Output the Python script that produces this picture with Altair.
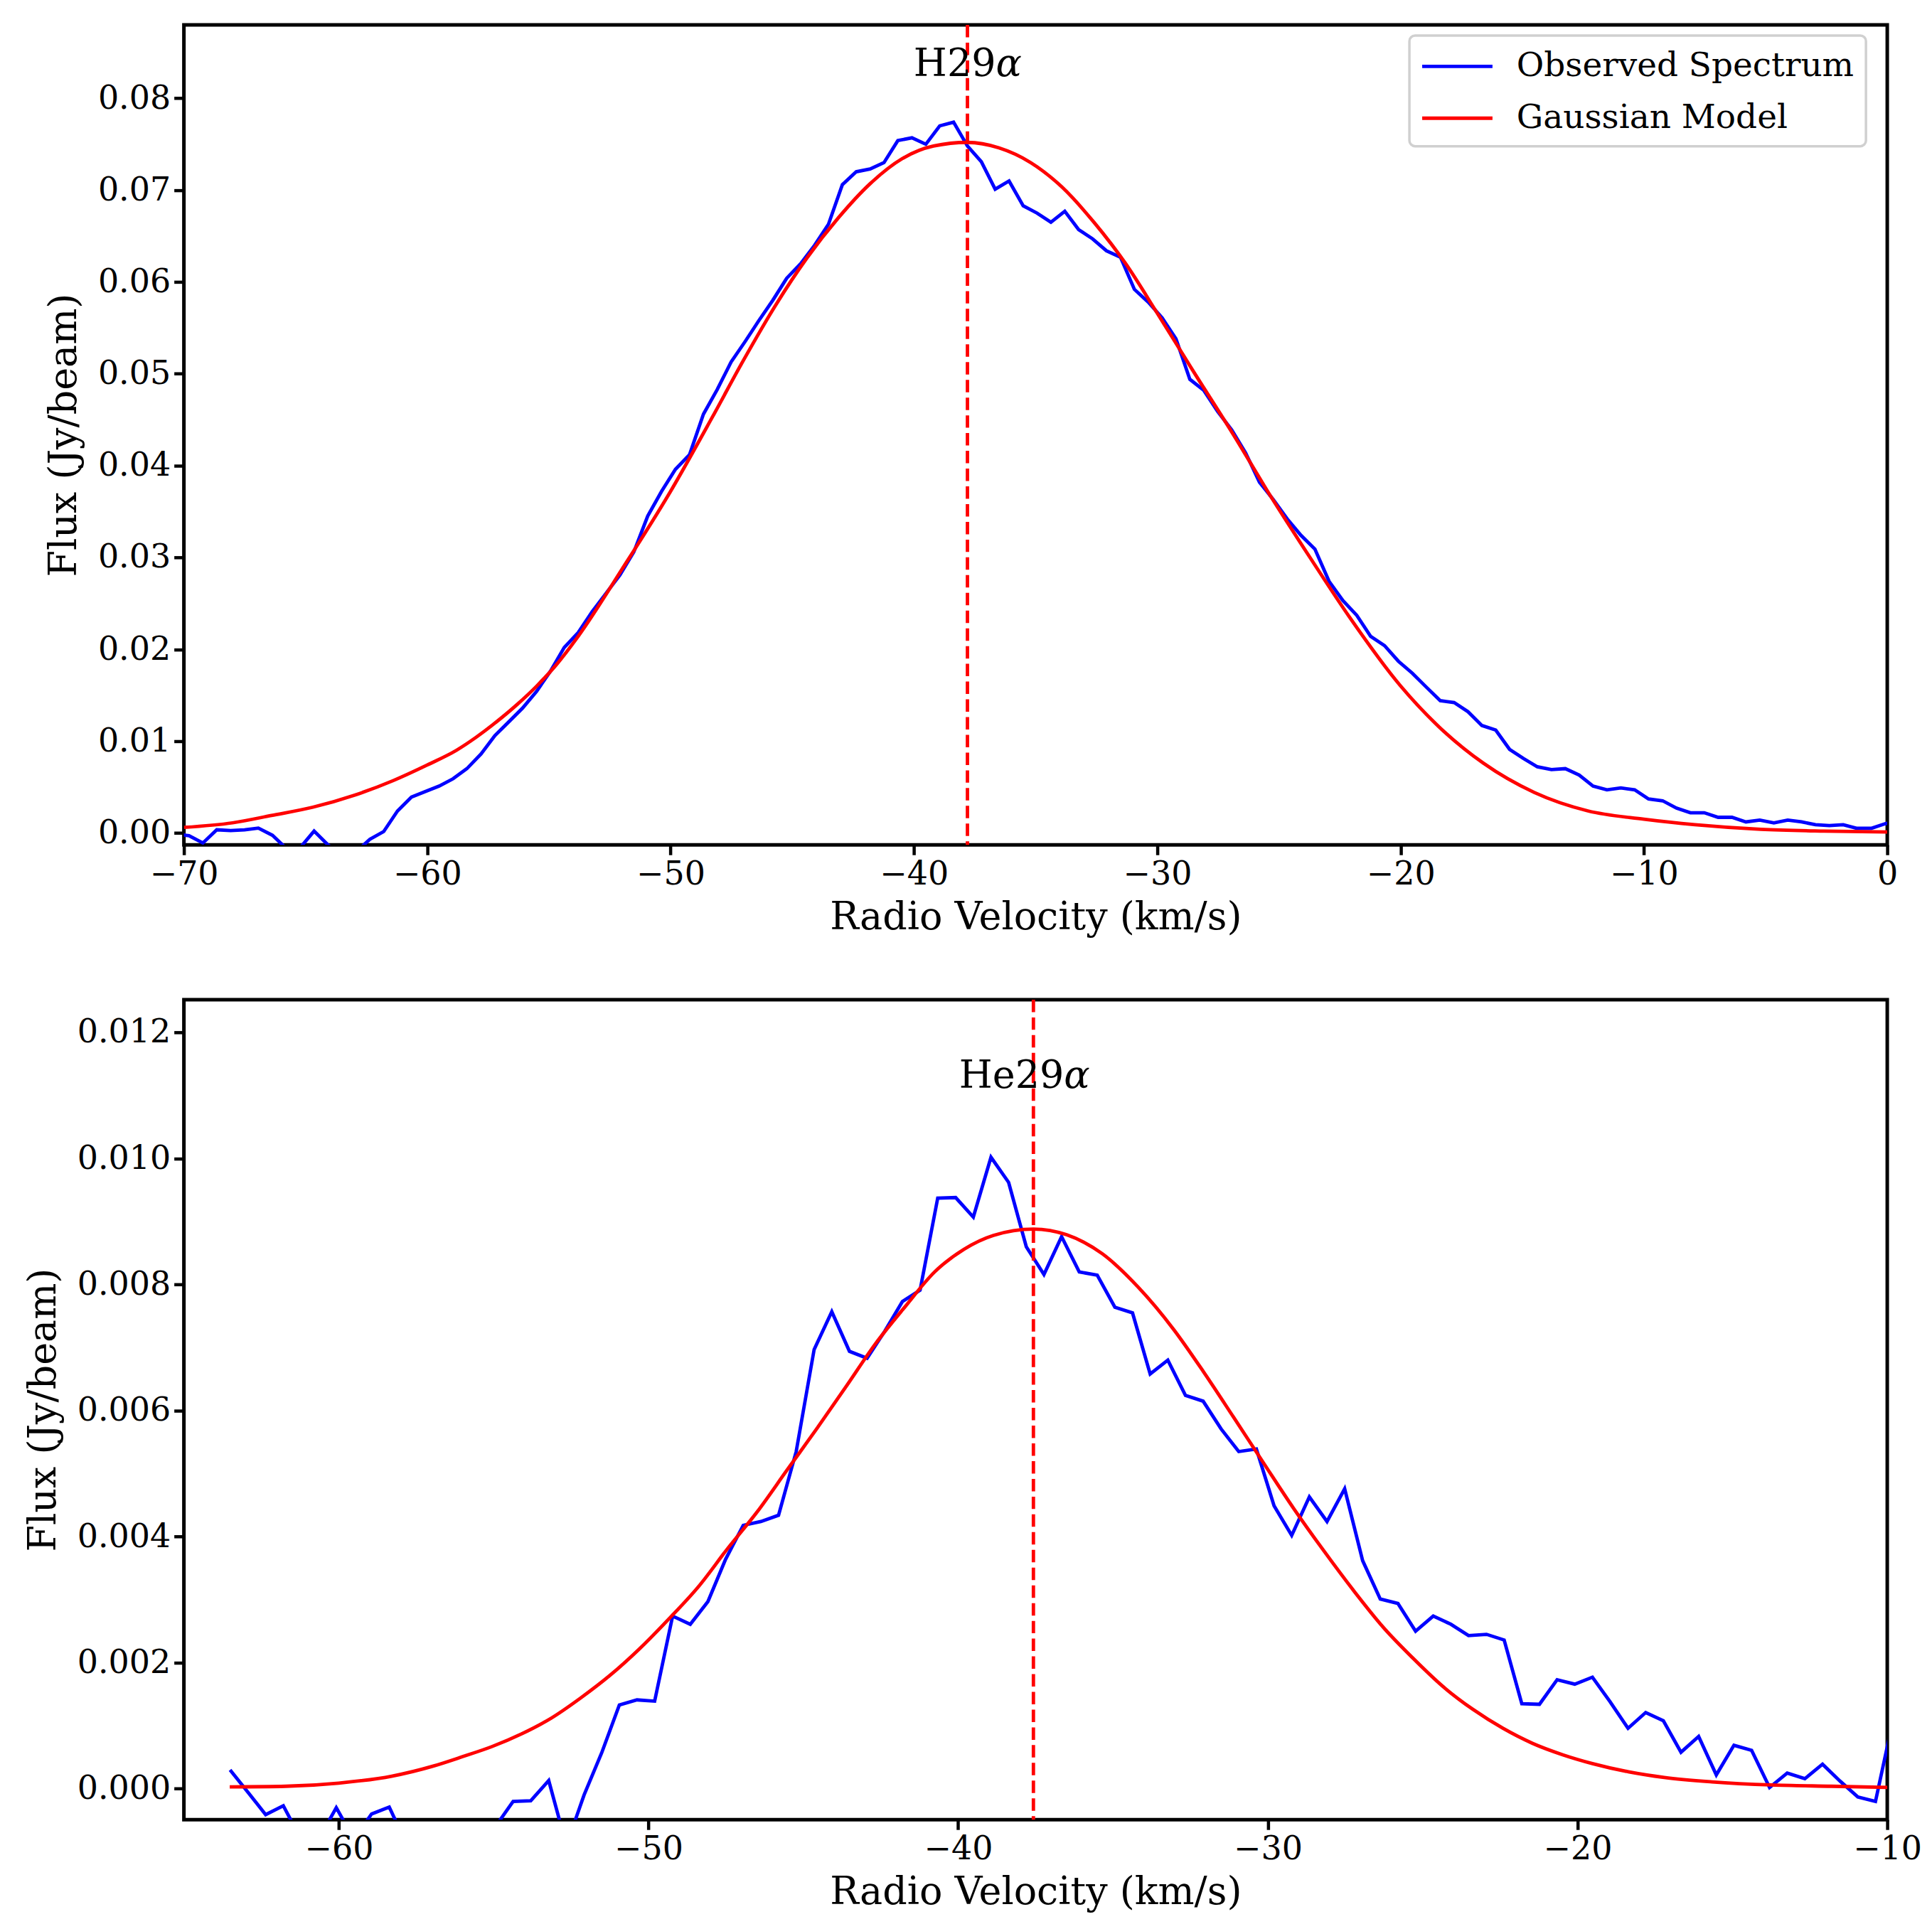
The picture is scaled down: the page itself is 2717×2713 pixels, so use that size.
import altair as alt
import pandas as pd

SERIF = "DejaVu Serif"
BLUE = "#0000ff"
RED = "#ff0000"

# --- H29alpha: observed channels ---
h_vel = [
    -70.36, -69.79, -69.22, -68.65, -68.08, -67.51, -66.94, -66.36, -65.79, -65.22,
    -64.65, -64.08, -63.51, -62.94, -62.36, -61.79, -61.22, -60.65, -60.08, -59.51,
    -58.94, -58.37, -57.79, -57.22, -56.65, -56.08, -55.51, -54.94, -54.37, -53.80,
    -53.22, -52.65, -52.08, -51.51, -50.94, -50.37, -49.80, -49.22, -48.65, -48.08,
    -47.51, -46.94, -46.37, -45.80, -45.23, -44.65, -44.08, -43.51, -42.94, -42.37,
    -41.80, -41.23, -40.66, -40.08, -39.51, -38.94, -38.37, -37.80, -37.23, -36.66,
    -36.09, -35.51, -34.94, -34.37, -33.80, -33.23, -32.66, -32.09, -31.51, -30.94,
    -30.37, -29.80, -29.23, -28.66, -28.09, -27.52, -26.94, -26.37, -25.80, -25.23,
    -24.66, -24.09, -23.52, -22.94, -22.37, -21.80, -21.23, -20.66, -20.09, -19.52,
    -18.95, -18.37, -17.80, -17.23, -16.66, -16.09, -15.52, -14.95, -14.38, -13.80,
    -13.23, -12.66, -12.09, -11.52, -10.95, -10.38, -9.81, -9.23, -8.66, -8.09,
    -7.52, -6.95, -6.38, -5.81, -5.24, -4.66, -4.09, -3.52, -2.95, -2.38,
    -1.81, -1.24, -0.66, -0.09, 0.48,
]
h_obs = [
    -0.0001, -0.0003, -0.0011, 0.00034, 0.00026, 0.00034, 0.00052, -0.00026, -0.0017, -0.0016,
    0.0002, -0.0013, -0.0025, -0.0021, -0.0007, 0.00015, 0.0024, 0.0039, 0.0045, 0.0051,
    0.0059, 0.0070, 0.0086, 0.0106, 0.0121, 0.0136, 0.0154, 0.0176, 0.0202, 0.0218,
    0.0241, 0.0261, 0.0281, 0.0306, 0.0345, 0.0372, 0.0396, 0.0412, 0.0456, 0.0483,
    0.0513, 0.0535, 0.0558, 0.0580, 0.0604, 0.0620, 0.0640, 0.0663, 0.0706, 0.0720,
    0.0723, 0.0730, 0.0754, 0.0757, 0.0750, 0.0770, 0.0774, 0.0748, 0.0731, 0.0701,
    0.0710, 0.0683, 0.0675, 0.0665, 0.0677, 0.0657, 0.0647, 0.0634, 0.0627, 0.0592,
    0.0578, 0.0561, 0.0538, 0.0494, 0.0482, 0.0459, 0.0439, 0.0414, 0.0382, 0.0363,
    0.0342, 0.0324, 0.0309, 0.0274, 0.0253, 0.0237, 0.0214, 0.0204, 0.0187, 0.0174,
    0.0159, 0.0144, 0.0142, 0.0132, 0.0117, 0.0112, 0.0091, 0.0081, 0.0072, 0.0069,
    0.0070, 0.0063, 0.0051, 0.0047, 0.0049, 0.0047, 0.0037, 0.0035, 0.0027, 0.0022,
    0.0022, 0.0017, 0.0017, 0.0012, 0.0014, 0.0011, 0.0014, 0.0012, 0.0009, 0.0008,
    0.0009, 0.0005, 0.0005, 0.0010, 0.0013,
]

# --- H29alpha: fitted model ---
h_fit_vel = [
    -70.0, -68.0, -66.4, -64.7, -63.0, -61.4, -60.0, -58.8, -58.0, -57.2,
    -56.3, -55.5, -54.7, -53.8, -52.0, -50.0, -48.3, -47.0, -45.7, -44.4,
    -43.1, -41.8, -40.5, -39.2, -37.8, -36.5, -35.2, -33.9, -32.6, -31.3,
    -30.0, -28.5, -26.9, -25.3, -23.7, -22.1, -20.0, -18.4, -16.6, -14.5,
    -12.3, -10.0, -7.9, -5.2, -2.6, 0.0,
]
h_fit = [
    0.0006, 0.0011, 0.0019, 0.0028, 0.0041, 0.0057, 0.0074, 0.0090, 0.0104, 0.0120,
    0.0140, 0.0160, 0.0183, 0.0214, 0.0287, 0.0372, 0.0452, 0.0515, 0.0574, 0.0626,
    0.0670, 0.0707, 0.0734, 0.0748, 0.0752, 0.0746, 0.0730, 0.0703, 0.0665, 0.0620,
    0.0566, 0.0502, 0.0435, 0.0365, 0.0299, 0.0235, 0.0160, 0.0115, 0.0076, 0.0044,
    0.0024, 0.0015, 0.0009, 0.0004, 0.0002, 0.0001,
]

# --- He29alpha: observed channels ---
he_vel = [
    -63.51, -62.94, -62.36, -61.79, -61.22, -60.65, -60.08, -59.51, -58.94, -58.37,
    -57.79, -57.22, -56.65, -56.08, -55.51, -54.94, -54.37, -53.80, -53.22, -52.65,
    -52.08, -51.51, -50.94, -50.37, -49.80, -49.22, -48.65, -48.08, -47.51, -46.94,
    -46.37, -45.80, -45.23, -44.65, -44.08, -43.51, -42.94, -42.37, -41.80, -41.23,
    -40.66, -40.08, -39.51, -38.94, -38.37, -37.80, -37.23, -36.66, -36.09, -35.51,
    -34.94, -34.37, -33.80, -33.23, -32.66, -32.09, -31.51, -30.94, -30.37, -29.80,
    -29.23, -28.66, -28.09, -27.52, -26.94, -26.37, -25.80, -25.23, -24.66, -24.09,
    -23.52, -22.94, -22.37, -21.80, -21.23, -20.66, -20.09, -19.52, -18.95, -18.37,
    -17.80, -17.23, -16.66, -16.09, -15.52, -14.95, -14.38, -13.80, -13.23, -12.66,
    -12.09, -11.52, -10.95, -10.38, -9.81,
]
he_obs = [
    0.0003, -0.00005, -0.00041, -0.00027, -0.0008, -0.0008, -0.0003, -0.0008, -0.0004, -0.00029,
    -0.0009, -0.0012, -0.0010, -0.0009, -0.0012, -0.0006, -0.0002, -0.00019, 0.00013, -0.0009,
    -0.0001, 0.00057, 0.00133, 0.00141, 0.00139, 0.00274, 0.00261, 0.00297, 0.00364, 0.00418,
    0.00424, 0.00434, 0.00535, 0.00697, 0.00757, 0.00694, 0.00683, 0.00726, 0.00773, 0.00791,
    0.00937, 0.00938, 0.00907, 0.01002, 0.00962, 0.00860, 0.00816, 0.00876, 0.00820, 0.00815,
    0.00764, 0.00755, 0.00658, 0.00680, 0.00624, 0.00615, 0.00571, 0.00535, 0.00539, 0.00449,
    0.00402, 0.00463, 0.00424, 0.00476, 0.00362, 0.00301, 0.00294, 0.00250, 0.00274, 0.00261,
    0.00243, 0.00245, 0.00236, 0.00135, 0.00134, 0.00173, 0.00166, 0.00177, 0.00138, 0.00096,
    0.00121, 0.00108, 0.00058, 0.00083, 0.00022, 0.00069, 0.00061, 0.00002, 0.00025, 0.00016,
    0.00039, 0.00012, -0.00013, -0.00020, 0.00110,
]

# --- He29alpha: fitted model ---
he_fit_vel = [
    -63.52, -61.71, -60.0, -58.29, -56.95, -56.0, -55.05, -54.1, -53.14, -52.19,
    -51.24, -50.29, -49.33, -48.38, -47.43, -46.48, -45.52, -44.57, -43.62, -42.67,
    -41.71, -40.76, -39.81, -38.86, -37.57, -36.5, -35.35, -34.19, -33.03, -32.07,
    -31.1, -30.14, -29.17, -28.2, -27.24, -26.27, -25.31, -24.34, -23.38, -22.41,
    -21.45, -20.48, -19.52, -18.36, -17.2, -15.66, -13.73, -11.8, -9.81,
]
he_fit = [
    0.00003, 0.00004, 0.00009, 0.00020, 0.00036, 0.00051, 0.00067, 0.00087, 0.00112, 0.00144,
    0.00180, 0.00222, 0.00270, 0.00321, 0.00382, 0.00440, 0.00506, 0.00571, 0.00638, 0.00706,
    0.00765, 0.00820, 0.00856, 0.00878, 0.00888, 0.00879, 0.00849, 0.00796, 0.00728, 0.00661,
    0.00589, 0.00517, 0.00445, 0.00378, 0.00315, 0.00256, 0.00207, 0.00162, 0.00126, 0.00096,
    0.00072, 0.00054, 0.00040, 0.00027, 0.00018, 0.00011, 0.00006, 0.00004, 0.00002,
]

# line centres and labels
line_names = ["H29", "He29"]
line_centres = [-37.8, -37.57]
label_heights = [0.0824, 0.01112]

series = ["Observed Spectrum", "Gaussian Model"]

MINUS = "replace(format(datum.value, 'd'), '-', '\u2212')"
LW = 4.8


def panel(vel, obs, fvel, fit, centre, name, label_y, xdom, ydom, xticks, yticks, yfmt,
          alpha_dx):
    obs_df = pd.DataFrame({"v": vel, "f": obs, "s": series[0]})
    fit_df = pd.DataFrame({"v": fvel, "f": fit, "s": series[1]})
    mark_df = pd.DataFrame({"v": [centre], "f": [label_y], "t": [name], "a": ["\u03b1"]})

    x = alt.X("v:Q", scale=alt.Scale(domain=xdom, nice=False, zero=False),
              axis=alt.Axis(values=xticks, title="Radio Velocity (km/s)", labelExpr=MINUS,
                            labelFlush=False))
    y = alt.Y("f:Q", scale=alt.Scale(domain=ydom, nice=False, zero=False),
              axis=alt.Axis(values=yticks, format=yfmt, title="Flux (Jy/beam)",
                            titlePadding=20, labelFlush=False))
    color = alt.Color(
        "s:N",
        scale=alt.Scale(domain=series, range=[BLUE, RED]),
        legend=alt.Legend(
            title=None, orient="none", legendX=1726, legendY=15,
            symbolType="M-2,0H2", symbolSize=2450, symbolStrokeWidth=LW, symbolOffset=24,
            labelFont=SERIF, labelFontSize=47, labelLimit=2000, labelOffset=56,
            rowPadding=22, padding=16, fillColor="rgba(255,255,255,0.8)",
            strokeColor="#d0d0d0", cornerRadius=8,
        ),
    )

    observed = alt.Chart(obs_df).mark_line(strokeWidth=LW, clip=True).encode(
        x=x, y=y, color=color)
    model = alt.Chart(fit_df).mark_line(strokeWidth=LW, clip=True, interpolate="monotone").encode(
        x=x, y=y, color=color)
    centre_rule = alt.Chart(mark_df).mark_rule(
        color=RED, strokeWidth=LW, strokeDash=[17.5, 7.5]).encode(x="v:Q")
    label = alt.Chart(mark_df).mark_text(
        font=SERIF, fontSize=54, align="right", baseline="alphabetic", dx=alpha_dx,
        color="black").encode(x="v:Q", y="f:Q", text="t:N")
    alpha = alt.Chart(mark_df).mark_text(
        font=SERIF, fontSize=54, fontStyle="italic", align="left", baseline="alphabetic",
        dx=alpha_dx, color="black").encode(x="v:Q", y="f:Q", text="a:N")

    return alt.layer(observed, model, centre_rule, label, alpha).properties(
        width=2399, height=1155)


top = panel(h_vel, h_obs, h_fit_vel, h_fit, line_centres[0], line_names[0], label_heights[0],
            [-70, 0], [-0.0013, 0.088], [-70, -60, -50, -40, -30, -20, -10, 0],
            [0.0, 0.01, 0.02, 0.03, 0.04, 0.05, 0.06, 0.07, 0.08], ".2f", 40)
bottom = panel(he_vel, he_obs, he_fit_vel, he_fit, line_centres[1], line_names[1],
               label_heights[1], [-65, -10], [-0.00049, 0.01252],
               [-60, -50, -40, -30, -20, -10],
               [0.0, 0.002, 0.004, 0.006, 0.008, 0.010, 0.012], ".3f", 43)

chart = alt.vconcat(top, bottom, spacing=81).properties(
    padding={"left": 23, "top": 20, "right": 3, "bottom": 3},
    background="white",
).configure_view(
    stroke="black", strokeWidth=5
).configure_axis(
    domain=False, grid=False, labelFont=SERIF, labelFontSize=46, labelColor="black",
    titleFont=SERIF, titleFontSize=54, titleColor="black", titleFontWeight="normal",
    tickColor="black", tickWidth=4.5, tickSize=14, labelPadding=5
).configure_axisX(
    titlePadding=11
).configure_legend(
    strokeWidth=3.5
)

chart.save("out.html", embed_options={"renderer": "svg", "actions": False})
